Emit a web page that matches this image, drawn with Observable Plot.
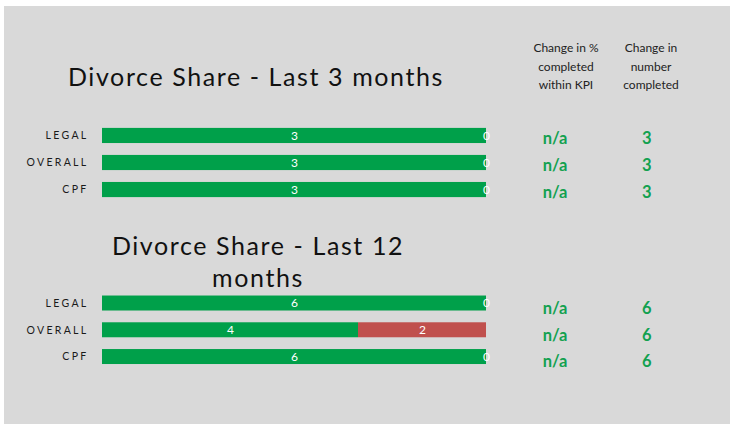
<!DOCTYPE html>
<html>
<head>
<meta charset="utf-8">
<script src="https://cdn.jsdelivr.net/npm/d3@7"></script>
<script src="https://cdn.jsdelivr.net/npm/@observablehq/plot@0.6"></script>
<style>
  html, body { margin: 0; padding: 0; background: #ffffff; }
  #root { position: relative; width: 732px; height: 426px; overflow: hidden; font-family: Lato, "Open Sans", sans-serif; }
  #panel { position: absolute; left: 4px; top: 6px; width: 726px; height: 418px; background: #d9d9d9; }
  .layer { position: absolute; left: 0; }
  .title { position: absolute; text-align: center; color: #111; font-size: 25px; letter-spacing: 1.6px; line-height: 32px; white-space: nowrap; }
  .head { position: absolute; text-align: center; color: #222; font-size: 12px; line-height: 18.5px; width: 100px; }
  g[aria-label="y-axis tick label"] text { letter-spacing: 2.3px; fill: #1a1a1a; }
</style>
</head>
<body>
<div id="root"><div id="panel"></div></div>
<script>
// ---- data ----
const categories = ["LEGAL", "OVERALL", "CPF"];
const within3 = [3, 3, 3];
const outside3 = [0, 0, 0];
const kpiChange3 = ["n/a", "n/a", "n/a"];
const numberChange3 = [3, 3, 3];
const within12 = [6, 4, 6];
const outside12 = [0, 2, 0];
const kpiChange12 = ["n/a", "n/a", "n/a"];
const numberChange12 = [6, 6, 6];
const title3 = "Divorce Share - Last 3 months";
const title12 = ["Divorce Share - Last 12", "months"];
const headerKpi = ["Change in %", "completed", "within KPI"];
const headerNumber = ["Change in", "number", "completed"];

const GREEN = "#00a04a";
const TEXT_GREEN = "#12a150";
const RED = "#c0504d";
const root = document.getElementById("root");

function section(within, outside, kpi, num, opts) {
  const rows = [];
  categories.forEach((c, i) => {
    rows.push({category: c, status: "within", value: within[i]});
    rows.push({category: c, status: "outside", value: outside[i]});
  });
  const total = d3.max(categories.map((c, i) => within[i] + outside[i]));
  const chart = Plot.plot({
    width: 732,
    height: opts.height,
    marginLeft: 102,
    marginRight: 246,
    marginTop: opts.marginTop,
    marginBottom: opts.marginBottom,
    x: {domain: [0, total], axis: null},
    y: {domain: categories, padding: 0.44, round: false, label: null, tickSize: 0, tickPadding: 14},
    color: {domain: ["within", "outside"], range: [GREEN, RED]},
    style: {background: "transparent", fontFamily: "Lato, 'Open Sans', sans-serif", fontSize: "10.5px", color: "#1a1a1a", overflow: "visible"},
    marks: [
      Plot.barX(rows, {x: "value", y: "category", fill: "status"}),
      Plot.text(rows, Plot.stackX({x: "value", y: "category", text: d => String(d.value), fill: "white", fontSize: 12})),
      Plot.text(categories, {y: d => d, text: (d, i) => kpi[i], frameAnchor: "right", dx: 81, dy: opts.dy, fill: TEXT_GREEN, fontWeight: "bold", fontSize: 16.5}),
      Plot.text(categories, {y: d => d, text: (d, i) => String(num[i]), frameAnchor: "right", dx: 165, dy: opts.dy, fill: TEXT_GREEN, fontWeight: "bold", fontSize: 16.5})
    ]
  });
  chart.classList.add("layer");
  chart.style.top = opts.top + "px";
  root.appendChild(chart);
}

section(within3, outside3, kpiChange3, numberChange3, {top: 0, height: 220, marginTop: 116, marginBottom: 11, dy: 3});
section(within12, outside12, kpiChange12, numberChange12, {top: 220, height: 206, marginTop: 63.75, marginBottom: 50.2, dy: 5});

function addTitle(lines, centerX, top) {
  const div = document.createElement("div");
  div.className = "title";
  div.innerHTML = lines.map(l => `<div>${l}</div>`).join("");
  div.style.top = top + "px";
  div.style.width = "420px";
  div.style.left = (centerX - 210) + "px";
  root.appendChild(div);
}
addTitle([title3], 256, 60);
addTitle(title12, 258, 229);

function addHead(lines, centerX, top) {
  const div = document.createElement("div");
  div.className = "head";
  div.innerHTML = lines.map(l => `<div>${l}</div>`).join("");
  div.style.top = top + "px";
  div.style.left = (centerX - 50) + "px";
  root.appendChild(div);
}
addHead(headerKpi, 566, 39);
addHead(headerNumber, 651, 39);
</script>
</body>
</html>
